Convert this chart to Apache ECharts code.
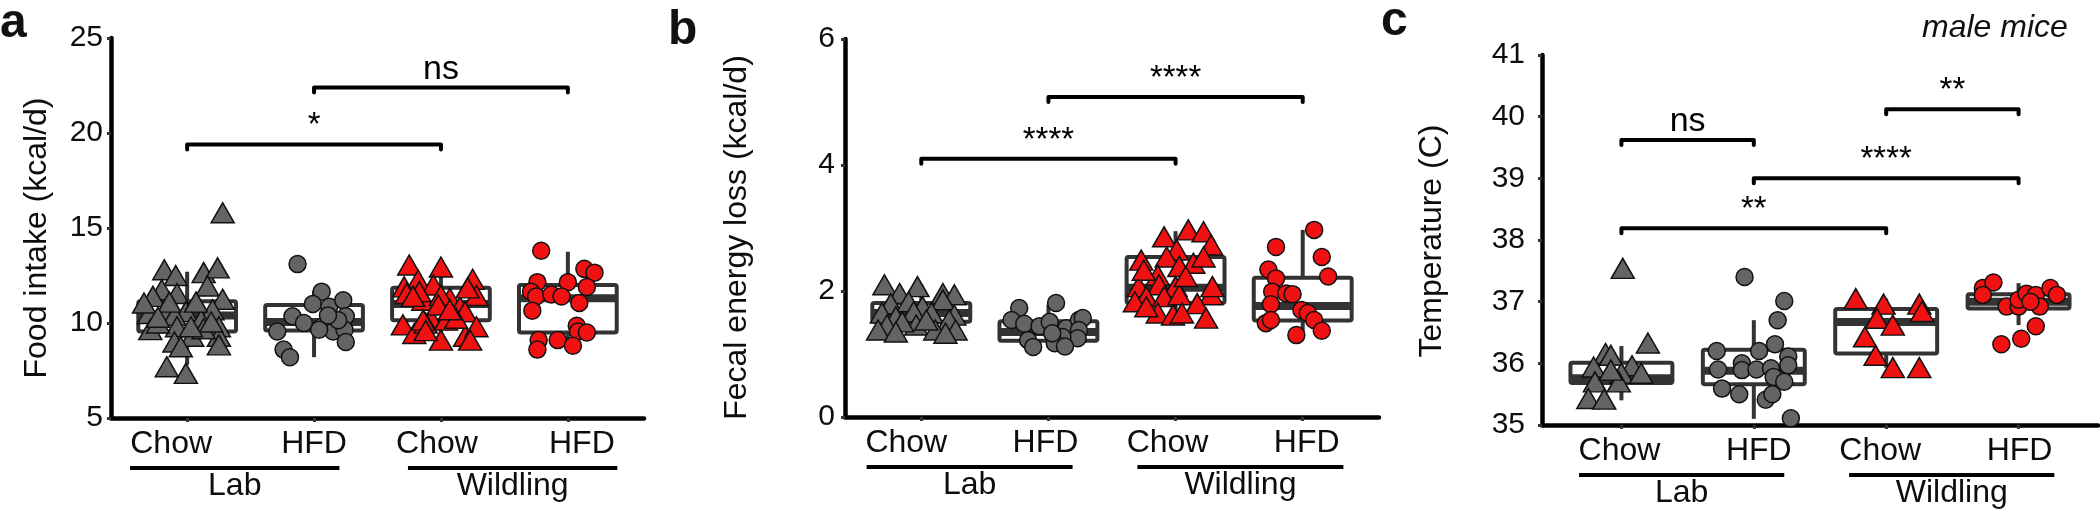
<!DOCTYPE html>
<html><head><meta charset="utf-8">
<script src="https://cdn.jsdelivr.net/npm/echarts@6/dist/echarts.min.js"></script>
<style>html,body{margin:0;padding:0;background:#fff}#chart{width:2100px;height:512px}</style>
</head><body><div id="chart"></div>
<script>
// ---------- DATA ----------
const categories = ['Chow', 'HFD', 'Chow', 'HFD'];
const groupNames = ['Lab', 'Wildling'];

// Panel a: Food intake (kcal/d); points as [jittered category position, value]
const aLabChow = [[0.82,12.8],[0.91,12.5],[1.13,12.65],[1.24,12.9],[1.16,11.95],[0.80,11.75],[0.73,11.4],[0.92,11.55],[1.28,11.25],[0.84,10.7],[0.99,10.6],[1.20,10.7],[1.11,10.15],[0.90,10.4],[0.70,10.5],[0.71,9.65],[0.92,9.8],[1.04,9.3],[0.90,9.0],[1.25,9.8],[1.25,9.3],[1.25,8.85],[0.84,7.7],[0.99,7.35],[0.66,11.05],[1.07,11.1],[0.95,8.75],[0.77,10.0],[1.13,9.7],[0.86,11.1],[1.19,10.05],[0.77,10.3],[1.03,9.8],[1.28,15.8]];
const aLabHfd = [[1.87,13.1],[2.06,11.65],[1.99,11.0],[2.12,10.85],[2.23,11.2],[1.83,10.35],[1.92,10.0],[2.06,9.8],[2.25,10.35],[1.71,9.55],[2.15,9.55],[2.24,9.65],[2.25,9.0],[1.76,8.6],[1.81,8.2],[2.19,10.15],[2.11,10.4],[2.04,9.65]];
const aWildChow = [[2.75,13.05],[3.0,12.95],[3.25,12.3],[2.82,12.25],[2.94,12.0],[2.71,11.9],[3.28,11.45],[3.07,11.3],[2.86,11.2],[2.73,11.55],[3.15,10.85],[2.92,10.25],[3.04,10.15],[3.19,10.6],[2.70,9.9],[2.79,9.45],[3.0,9.1],[3.19,9.3],[3.28,9.8],[3.23,9.1],[2.88,10.0],[3.12,10.25],[3.0,11.45],[2.83,11.65],[3.21,11.85],[2.78,11.4],[2.98,10.95],[3.07,10.7],[2.86,10.15],[2.88,9.6]];
const aWildHfd = [[3.79,13.8],[4.13,12.85],[4.21,12.65],[3.76,12.15],[4.0,12.15],[4.15,11.9],[3.71,11.65],[3.75,11.4],[3.87,11.5],[3.95,11.4],[4.09,11.05],[3.72,10.65],[4.07,9.85],[4.08,9.55],[4.15,9.5],[3.77,9.1],[3.76,8.6],[3.92,9.1],[4.04,8.8]];
const aBoxes = [[7.8,9.55,10.4,11.15,12.7],[8.2,9.6,10.05,10.95,11.7],[8.9,10.15,11.0,11.85,13.0],[8.6,9.5,11.3,12.0,13.75]]; // min,q1,median,q3,max
const aBrackets = [[1,3,19.4],[2,4,22.4]];
const aBracketLabels = ['*', 'ns'];

// Panel b: Fecal energy loss (kcal/d)
const bLabChow = [[0.71,2.1],[0.83,1.96],[0.97,2.07],[1.17,1.96],[1.26,1.94],[0.76,1.8],[0.9,1.83],[1.01,1.75],[1.17,1.86],[0.69,1.65],[0.8,1.59],[0.94,1.67],[1.08,1.65],[1.26,1.62],[1.22,1.54],[0.73,1.46],[0.96,1.46],[1.11,1.38],[1.27,1.38],[1.19,1.33],[0.85,1.51],[1.04,1.54],[0.66,1.38],[0.8,1.35]];
const bLabHfd = [[1.77,1.73],[1.71,1.54],[1.81,1.48],[1.93,1.44],[2.06,1.81],[2.01,1.51],[2.14,1.41],[2.24,1.54],[2.27,1.57],[2.24,1.38],[2.23,1.25],[2.11,1.27],[2.05,1.17],[2.13,1.12],[1.84,1.22],[1.88,1.11],[2.03,1.33]];
const bWildChow = [[2.91,2.86],[3.1,2.97],[3.22,2.94],[3.28,2.73],[3.01,2.65],[2.73,2.49],[2.93,2.54],[3.14,2.44],[3.03,2.39],[2.86,2.25],[3.22,2.54],[2.71,2.07],[2.87,2.1],[3.0,2.07],[2.77,1.91],[2.91,1.91],[3.03,1.94],[3.28,1.94],[3.17,1.8],[2.68,1.83],[2.86,1.65],[2.98,1.62],[3.05,1.65],[3.24,1.57],[2.77,1.75],[3.08,2.23],[3.29,2.07],[2.75,2.33]];
const bWildHfd = [[3.79,2.7],[4.15,2.54],[4.2,2.23],[3.73,2.34],[3.79,2.2],[3.76,1.99],[3.87,1.96],[3.92,1.95],[3.75,1.79],[3.99,1.7],[4.04,1.65],[4.09,1.54],[3.71,1.49],[3.75,1.54],[4.15,1.37],[3.95,1.3],[4.09,2.97]];
const bBoxes = [[1.33,1.51,1.65,1.81,2.1],[1.1,1.21,1.35,1.52,1.78],[1.55,1.81,2.05,2.54,2.95],[1.3,1.53,1.76,2.21,2.97]];
const bBrackets = [[1,3,4.1],[2,4,5.08]];
const bBracketLabels = ['****', '****'];

// Panel c: Temperature (C)
const cLabChow = [[1.01,37.54],[1.2,36.33],[0.88,36.16],[0.92,36.13],[0.79,35.94],[1.08,35.96],[1.0,35.84],[1.15,35.84],[0.8,35.7],[0.98,35.7],[0.75,35.43],[0.87,35.42],[0.92,35.89]];
const cLabHfd = [[1.93,37.4],[2.23,37.01],[2.18,36.7],[1.72,36.2],[2.04,36.2],[2.16,36.31],[2.26,36.11],[2.26,35.97],[1.73,35.9],[1.91,36.0],[1.91,35.89],[2.02,35.9],[2.13,35.92],[2.15,35.78],[2.23,35.7],[1.76,35.59],[1.89,35.5],[2.09,35.41],[2.14,35.5],[2.28,35.11]];
const cWildChow = [[2.77,37.05],[2.98,36.96],[3.25,36.96],[3.27,36.84],[2.93,36.73],[3.05,36.62],[2.84,36.43],[2.92,36.13],[3.05,35.93],[3.25,35.93]];
const cWildHfd = [[3.73,37.22],[3.81,37.31],[3.73,37.11],[3.91,36.92],[4.0,36.92],[4.0,37.03],[4.06,37.13],[4.13,37.11],[4.16,36.92],[4.24,37.22],[4.29,37.11],[4.13,36.6],[4.02,36.4],[3.87,36.31],[4.09,37.0]];
const cBoxes = [[35.4,35.68,35.76,36.01,36.28],[35.1,35.66,35.88,36.22,36.7],[35.93,36.16,36.67,36.88,37.05],[36.62,36.89,37.0,37.12,37.3]];
const cBrackets = [[1,2,39.62],[1,3,38.19],[2,4,39.0],[3,4,40.12]];
const cBracketLabels = ['ns', '**', '****', '**'];

// ---------- LAYOUT / STYLE ----------
const FONT = 'Liberation Sans, Arial, Helvetica, sans-serif';
const GRAY = '#646464', RED = '#f01212', BOXC = '#333333', INK = '#0d0d0d';
const panels = [
  { title: 'Food intake (kcal/d)', grid: {left:111, top:38, width:533, height:380}, y: {min:5, max:25, interval:5},
    yMargin: 8, nameGap: 58, namePad: 20, shift: [-16, 0, -4, 14], spans: [[0.55,2.2],[2.74,4.39]],
    pts: [aLabChow, aLabHfd, aWildChow, aWildHfd], boxes: aBoxes, br: aBrackets, brL: aBracketLabels },
  { title: 'Fecal energy loss (kcal/d)', grid: {left:845, top:39, width:534, height:378}, y: {min:0, max:6, interval:2},
    yMargin: 10, nameGap: 92, namePad: 19, shift: [-15, -3, -8, 4], spans: [[0.57,2.19],[2.70,4.32]],
    pts: [bLabChow, bLabHfd, bWildChow, bWildHfd], boxes: bBoxes, br: bBrackets, brL: bBracketLabels },
  { title: 'Temperature (C)', grid: {left:1542, top:55, width:556, height:370}, y: {min:35, max:41, interval:1},
    yMargin: 17, nameGap: 94, namePad: 2, shift: [-2, 5, -6, 1], spans: [[0.68,2.23],[2.72,4.27]],
    pts: [cLabChow, cLabHfd, cWildChow, cWildHfd], boxes: cBoxes, br: cBrackets, brL: cBracketLabels }
];
const ptStyle = [
  {symbol:'triangle', size:[23,20], color:GRAY},
  {symbol:'circle', size:17, color:GRAY},
  {symbol:'triangle', size:[23,20], color:RED},
  {symbol:'circle', size:17, color:RED}
];

const grid = [], xAxis = [], yAxis = [], series = [];
panels.forEach((p, k) => {
  grid.push(p.grid);
  const rich = {};
  p.shift.forEach((d, i) => {
    rich['s' + i] = { fontSize: 32, fontFamily: FONT, color: INK, lineHeight: 32,
      padding: [0, Math.max(0, -2 * d), 0, Math.max(0, 2 * d)] };
  });
  xAxis.push({
    type: 'value', gridIndex: k, min: 0.4, max: 4.6, splitLine: {show:false},
    axisLine: {show:true, onZero:false, lineStyle:{color:'#000', width:4.5}},
    axisTick: {show:true, customValues:[1,2,3,4], length:4, lineStyle:{color:'#333', width:3}},
    axisLabel: {show:true, customValues:[1,2,3,4], margin: 10,
      formatter: v => { const i = Math.round(v) - 1; return '{s' + i + '|' + categories[i] + '}'; }, rich }
  });
  yAxis.push({
    type: 'value', gridIndex: k, min: p.y.min, max: p.y.max, interval: p.y.interval,
    splitLine: {show:false},
    axisLine: {show:true, onZero:false, lineStyle:{color:'#000', width:4.5}},
    axisTick: {show:true, length:4, lineStyle:{color:'#333', width:3}},
    axisLabel: {fontSize: 30, fontFamily: FONT, color: INK, margin: p.yMargin},
    name: p.title, nameLocation: 'middle', nameRotate: 90, nameGap: p.nameGap,
    nameTextStyle: {fontSize: 32, fontFamily: FONT, color: INK, padding: [0, p.namePad, 0, 0]}
  });
  // box plots
  series.push({
    type: 'custom', xAxisIndex: k, yAxisIndex: k, clip: false, z: 2,
    data: p.boxes.map((b, i) => [i + 1].concat(b)),
    encode: {x: 0, y: [1,2,3,4,5]},
    renderItem: (params, api) => {
      const x = api.value(0);
      const mn = api.value(1), q1 = api.value(2), md = api.value(3), q3 = api.value(4), mx = api.value(5);
      const cx = api.coord([x, md])[0];
      const hw = (api.coord([x + 0.385, md])[0] - api.coord([x - 0.385, md])[0]) / 2;
      const Y = v => api.coord([x, v])[1];
      const ls = {stroke: BOXC, lineWidth: 4, fill: null};
      return {type: 'group', children: [
        {type:'line', shape:{x1:cx, y1:Y(mx), x2:cx, y2:Y(q3)}, style: ls},
        {type:'line', shape:{x1:cx, y1:Y(q1), x2:cx, y2:Y(mn)}, style: ls},
        {type:'rect', shape:{x:cx - hw, y:Y(q3), width:2 * hw, height:Y(q1) - Y(q3), r:2}, style:{stroke:BOXC, lineWidth:4, fill:'#fff'}},
        {type:'line', shape:{x1:cx - hw, y1:Y(md), x2:cx + hw, y2:Y(md)}, style:{stroke:BOXC, lineWidth:8}}
      ]};
    }
  });
  // points
  p.pts.forEach((arr, g) => {
    const st = ptStyle[g];
    series.push({
      type: 'scatter', xAxisIndex: k, yAxisIndex: k, clip: false, z: 3,
      symbol: st.symbol, symbolSize: st.size, data: arr,
      itemStyle: {color: st.color, borderColor: '#111', borderWidth: 1.5, opacity: 1},
      emphasis: {disabled: true}
    });
  });
  // significance brackets
  series.push({
    type: 'custom', xAxisIndex: k, yAxisIndex: k, clip: false, z: 4,
    data: p.br, encode: {x: [0,1], y: 2},
    renderItem: (params, api) => {
      const y = api.value(2);
      const a = api.coord([api.value(0), y]), b = api.coord([api.value(1), y]);
      const lab = p.brL[params.dataIndex];
      const isNs = lab === 'ns';
      return {type:'group', children:[
        {type:'polyline', shape:{points:[[a[0], a[1] + 5],[a[0], a[1]],[b[0], b[1]],[b[0], b[1] + 5]]},
         style:{stroke:'#000', lineWidth:4, fill:null, lineJoin:'round', lineCap:'round'}},
        {type:'text', style:{text: lab, x:(a[0] + b[0]) / 2, y: a[1] - 18, align:'center', verticalAlign:'middle',
          font: (isNs ? '34px ' : '33px ') + FONT, fill:'#000'}}
      ]};
    }
  });
  // group underlines and labels (Lab / Wildling)
  series.push({
    type: 'custom', xAxisIndex: k, yAxisIndex: k, clip: false, z: 4, silent: true,
    data: p.spans.map(s => [s[0], s[1], p.y.min]), encode: {x: [0,1], y: 2},
    renderItem: (params, api) => {
      const a = api.coord([api.value(0), api.value(2)]), b = api.coord([api.value(1), api.value(2)]);
      return {type:'group', children:[
        {type:'line', shape:{x1:a[0], y1:a[1] + 50, x2:b[0], y2:b[1] + 50}, style:{stroke:'#000', lineWidth:4}},
        {type:'text', style:{text: groupNames[params.dataIndex], x:(a[0] + b[0]) / 2, y:a[1] + 68,
          align:'center', verticalAlign:'middle', font:'32px ' + FONT, fill:INK}}
      ]};
    }
  });
});

const chart = echarts.init(document.getElementById('chart'), null, {renderer: 'canvas'});
chart.setOption({
  animation: false, backgroundColor: '#fff',
  grid, xAxis, yAxis, series,
  graphic: [
    {type:'text', left: 0, top: 0, style:{text:'a', font:'bold 48px ' + FONT, fill:'#111'}},
    {type:'text', left: 668, top: 7, style:{text:'b', font:'bold 48px ' + FONT, fill:'#111'}},
    {type:'text', left: 1381, top: -2, style:{text:'c', font:'bold 48px ' + FONT, fill:'#111'}},
    {type:'text', left: 1922, top: 12, style:{text:'male mice', font:'italic 32px ' + FONT, fill:'#111'}}
  ]
});
</script></body></html>
